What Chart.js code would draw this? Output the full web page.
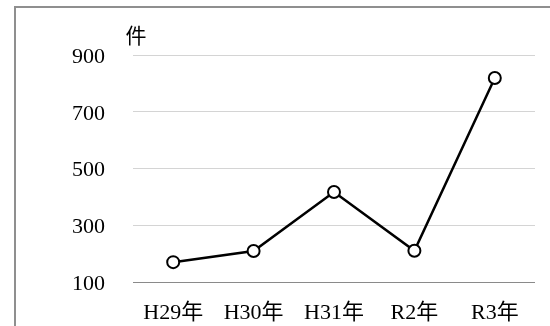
<!DOCTYPE html>
<html>
<head>
<meta charset="utf-8">
<script src="https://cdn.jsdelivr.net/npm/chart.js@4"></script>
<style>
  html, body { margin: 0; padding: 0; background: #fff; }
  #wrap { width: 550px; height: 326px; position: relative; }
</style>
</head>
<body>
<div id="wrap"><canvas id="caseChart"></canvas></div>
<script>
// data
const years = ['H29年', 'H30年', 'H31年', 'R2年', 'R3年'];
const cases = [170, 209, 417, 210, 819];
const yTicks = [100, 300, 500, 700, 900];
const unitLabel = '件';

const FONT = "'Liberation Serif', 'Noto Sans CJK JP', serif";

// outer frame and the unit label
const framePlugin = {
    id: 'frame',
    beforeDraw(chart) {
        const c = chart.ctx;
        c.save();
        c.strokeStyle = '#8f8f8f';
        c.lineWidth = 2;
        c.beginPath();
        c.moveTo(15, 326);
        c.lineTo(15, 7);
        c.lineTo(550, 7);
        c.stroke();
        c.restore();
    },
    afterDraw(chart) {
        const c = chart.ctx;
        c.save();
        c.fillStyle = '#000';
        c.font = '21px ' + FONT;
        c.textAlign = 'center';
        c.textBaseline = 'middle';
        c.fillText(unitLabel, 136, 37);
        c.restore();
    }
};

const ctx = document.getElementById('caseChart').getContext('2d');
const caseChart = new Chart(ctx, {
    type: 'line',
    data: {
        labels: years,
        datasets: [{
            data: cases,
            borderColor: '#000',
            borderWidth: 2.5,
            pointRadius: 6,
            pointBorderWidth: 2,
            pointBackgroundColor: '#fff',
            pointBorderColor: '#000',
            tension: 0
        }]
    },
    options: {
        responsive: true,
        maintainAspectRatio: false,
        animation: false,
        layout: { padding: { top: 55, right: 15, left: 0, bottom: 0 } },
        plugins: { legend: { display: false }, tooltip: { enabled: false } },
        scales: {
            x: {
                offset: true,
                grid: { display: false },
                border: { display: false },
                ticks: { color: '#000', font: { family: FONT, size: 22 }, padding: 10, maxRotation: 0 },
                afterFit(scale) { scale.height = 44; }
            },
            y: {
                min: 100,
                max: 900,
                afterBuildTicks(scale) { scale.ticks = yTicks.map(v => ({ value: v })); },
                grid: {
                    drawTicks: false,
                    lineWidth: 1,
                    color: c => c.tick && c.tick.value === 100 ? '#8a8a8a' : '#d4d4d4'
                },
                border: { display: false },
                ticks: { color: '#000', font: { family: FONT, size: 22 }, padding: 28, labelOffset: 2 },
                afterFit(scale) { scale.width = 133; }
            }
        }
    },
    plugins: [framePlugin]
});
</script>
</body>
</html>
